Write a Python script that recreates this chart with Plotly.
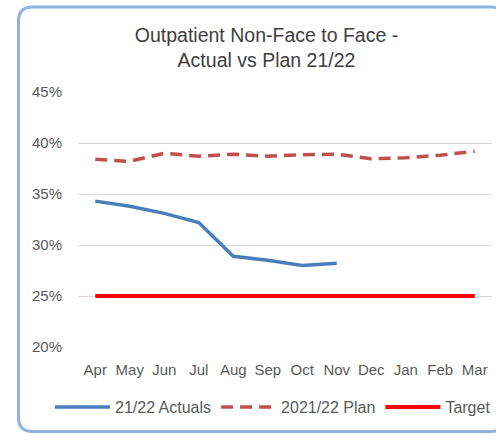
import plotly.graph_objects as go

months = ["Apr", "May", "Jun", "Jul", "Aug", "Sep", "Oct", "Nov", "Dec", "Jan", "Feb", "Mar"]
actuals = [34.3, 33.8, 33.1, 32.2, 28.9, 28.5, 28.0, 28.2]
plan = [38.4, 38.2, 39.0, 38.7, 38.9, 38.7, 38.85, 38.9, 38.45, 38.55, 38.8, 39.2]
target = [25, 25, 25, 25, 25, 25, 25, 25, 25, 25, 25, 25]

W, H = 496, 436
L, R, T, B = 78, 4, 92, 89
pw, ph = W - L - R, H - T - B

def px(x):
    return (x - L) / pw

def py(y):
    return (H - B - y) / ph

fig = go.Figure()
fig.add_trace(go.Scatter(x=months[:len(actuals)], y=actuals, mode="lines", name="21/22 Actuals",
                         line=dict(color="#4A7EBB", width=3.5)))
fig.add_trace(go.Scatter(x=months, y=plan, mode="lines", name="2021/22 Plan",
                         line=dict(color="#C0504D", width=3.5, dash="12px,7px")))
fig.add_trace(go.Scatter(x=months, y=target, mode="lines", name="Target",
                         line=dict(color="#FF0000", width=4)))

# rounded border (pixels -> paper)
x0, x1, y0, y1, r = 18.5, 505, 7, 431.5, 14
path = (f"M{px(x0+r)},{py(y0)} L{px(x1-r)},{py(y0)} Q{px(x1)},{py(y0)} {px(x1)},{py(y0+r)} "
        f"L{px(x1)},{py(y1-r)} Q{px(x1)},{py(y1)} {px(x1-r)},{py(y1)} "
        f"L{px(x0+r)},{py(y1)} Q{px(x0)},{py(y1)} {px(x0)},{py(y1-r)} "
        f"L{px(x0)},{py(y0+r)} Q{px(x0)},{py(y0)} {px(x0+r)},{py(y0)} Z")
fig.add_shape(type="path", path=path, xref="paper", yref="paper",
              line=dict(color="#8DB4E2", width=3), layer="below")

fig.update_layout(
    width=W, height=H,
    margin=dict(l=L, r=R, t=T, b=B),
    paper_bgcolor="white", plot_bgcolor="white",
    font=dict(family="Liberation Sans, Arial, sans-serif", color="#595959", size=13),
    title=dict(text="Outpatient Non-Face to Face -<br>Actual vs Plan 21/22",
               xref="container", x=266.5 / W, xanchor="center",
               yref="container", y=1 - 41.5 / H, yanchor="middle",
               font=dict(size=19.5, color="#404040")),
    showlegend=True,
    legend=dict(orientation="h", x=px(50), xanchor="left", y=py(407), yanchor="middle",
                font=dict(size=16, color="#595959"), itemwidth=55, tracegroupgap=0,
                bgcolor="rgba(0,0,0,0)"),
    xaxis=dict(type="category", showgrid=False, showline=False, ticks="",
               tickfont=dict(size=15, color="#595959"), ticklabelstandoff=12,
               range=[-0.5, 11.5], fixedrange=True),
    yaxis=dict(range=[20, 45], dtick=5, ticksuffix="%", showgrid=True, gridcolor="#D9D9D9",
               gridwidth=1, zeroline=False, showline=False, ticks="",
               tickfont=dict(size=15, color="#595959"), ticklabelstandoff=15, fixedrange=True),
)

fig.write_html("out.html", config={"displayModeBar": False},
               post_script="document.body.style.margin='0';")
